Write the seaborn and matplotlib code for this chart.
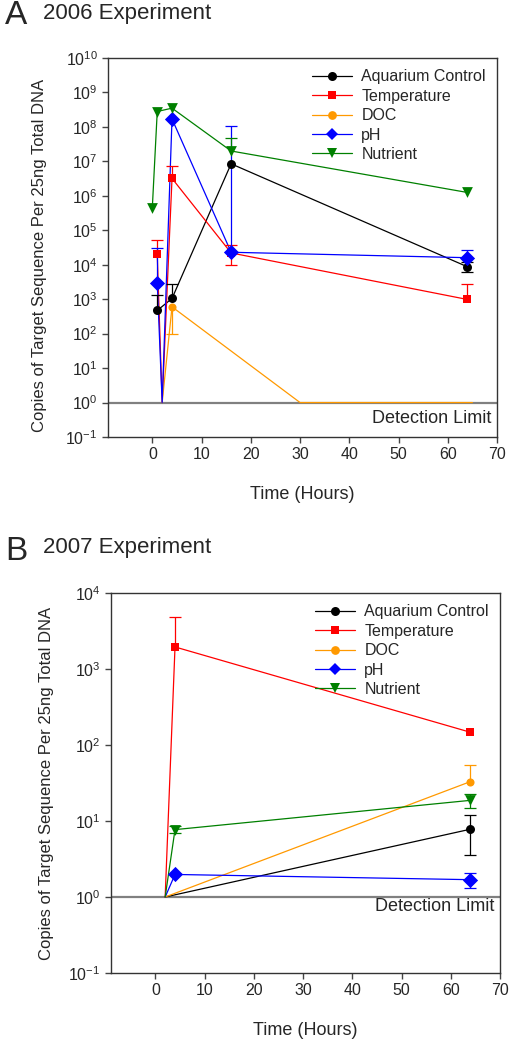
import numpy as np
import pandas as pd
import matplotlib
matplotlib.use("Agg")
import matplotlib.pyplot as plt
import seaborn as sns
from matplotlib.lines import Line2D
from matplotlib.ticker import LogLocator, LogFormatterSciNotation, NullLocator

nan = np.nan

series_names = ["Aquarium Control", "Temperature", "DOC", "pH", "Nutrient"]
series_colors = ["#000000", "#ff0000", "#ff9900", "#0000ff", "#008000"]
series_markers = ["o", "s", "o", "D", "v"]
marker_area = [42, 40, 34, 60, 60]
x_ticks = [0, 10, 20, 30, 40, 50, 60, 70]

# 2006 experiment (panel A); a value of 1 sits on the detection limit
a_control_t = [1, 4, 16, 64]
a_control = [470, 1050, 8.5e6, 8700]
a_control_hi = [1300, 2700, nan, 1.2e4]
a_control_lo = [nan, nan, nan, 6300]

a_temp_t = [1, 2, 4, 16, 64]
a_temp = [2e4, 1, 3.2e6, 2.2e4, 980]
a_temp_hi = [5.2e4, nan, 7.4e6, 3.7e4, 2700]
a_temp_lo = [nan, nan, nan, 1e4, nan]

a_doc_t = [2, 4, 30, 65]
a_doc = [1, 600, 1, 1]
a_doc_hi = [nan, nan, nan, nan]
a_doc_lo = [nan, 100, nan, nan]

a_ph_t = [1, 2, 4, 16, 64]
a_ph = [3000, 1, 1.7e8, 2.3e4, 1.6e4]
a_ph_hi = [3e4, nan, nan, 1.05e8, 2.7e4]
a_ph_lo = [nan, nan, nan, nan, nan]

a_nut_t = [0, 1, 4, 16, 64]
a_nut = [4.5e5, 2.8e8, 3.5e8, 2e7, 1.25e6]
a_nut_hi = [nan, nan, nan, 4.9e7, nan]
a_nut_lo = [nan, nan, nan, nan, nan]

# 2007 experiment (panel B)
b_control_t = [2, 64]
b_control = [1, 7.8]
b_control_hi = [nan, 11.9]
b_control_lo = [nan, 3.6]

b_temp_t = [2, 4, 64]
b_temp = [1, 1950, 147]
b_temp_hi = [nan, 4800, nan]
b_temp_lo = [nan, nan, nan]

b_doc_t = [2, 64]
b_doc = [1, 33]
b_doc_hi = [nan, 55]
b_doc_lo = [nan, nan]

b_ph_t = [2, 4, 64]
b_ph = [1, 1.98, 1.69]
b_ph_hi = [nan, nan, 2.06]
b_ph_lo = [nan, nan, 1.32]

b_nut_t = [2, 4, 64]
b_nut = [1, 7.7, 18.7]
b_nut_hi = [nan, 8.6, 23]
b_nut_lo = [nan, 7.0, 15]


def build_frame(parts):
    rows = []
    for name, (t, v, hi, lo) in zip(series_names, parts):
        rows.append(pd.DataFrame({"time": t, "value": v, "hi": hi, "lo": lo, "series": name}))
    return pd.concat(rows, ignore_index=True)


panel_a = build_frame([
    (a_control_t, a_control, a_control_hi, a_control_lo),
    (a_temp_t, a_temp, a_temp_hi, a_temp_lo),
    (a_doc_t, a_doc, a_doc_hi, a_doc_lo),
    (a_ph_t, a_ph, a_ph_hi, a_ph_lo),
    (a_nut_t, a_nut, a_nut_hi, a_nut_lo),
])
panel_b = build_frame([
    (b_control_t, b_control, b_control_hi, b_control_lo),
    (b_temp_t, b_temp, b_temp_hi, b_temp_lo),
    (b_doc_t, b_doc, b_doc_hi, b_doc_lo),
    (b_ph_t, b_ph, b_ph_hi, b_ph_lo),
    (b_nut_t, b_nut, b_nut_hi, b_nut_lo),
])

sns.set_style("ticks")
plt.rcParams["font.family"] = ["Liberation Sans", "DejaVu Sans"]
plt.rcParams["mathtext.fontset"] = "custom"
plt.rcParams["mathtext.rm"] = "Liberation Sans"
plt.rcParams["mathtext.it"] = "Liberation Sans:italic"
plt.rcParams["mathtext.bf"] = "Liberation Sans:bold"


def draw_errors(ax, d, color):
    # one-sided bars: only the caps that are shown in the figure are kept
    for _, r in d.iterrows():
        lo = 0 if np.isnan(r.lo) else r.value - r.lo
        hi = 0 if np.isnan(r.hi) else r.hi - r.value
        if lo == 0 and hi == 0:
            continue
        _, caps, _ = ax.errorbar([r.time], [r.value], yerr=[[lo], [hi]], fmt="none",
                                 ecolor=color, elinewidth=0.9, capsize=4, capthick=0.9, zorder=3)
        for cap in caps:
            if np.isclose(cap.get_ydata()[0], r.value):
                cap.remove()


def draw_panel(ax, df, ylim, det_y):
    ax.axhline(1, color="#808080", lw=1.6, zorder=1)
    for name, color, marker, area in zip(series_names, series_colors, series_markers, marker_area):
        d = df[df.series == name]
        sns.lineplot(data=d, x="time", y="value", color=color, lw=0.9, ax=ax,
                     estimator=None, sort=False, legend=False, zorder=2)
        draw_errors(ax, d, color)
        above = d[d.value > 1]
        sns.scatterplot(data=above, x="time", y="value", marker=marker, color=color,
                        s=area, linewidth=0, ax=ax, legend=False, zorder=4)
    ax.set_yscale("log")
    ax.set_ylim(*ylim)
    ax.set_xlim(-9, 70)
    ax.set_xticks(x_ticks)
    ax.yaxis.set_major_locator(LogLocator(base=10, numticks=20))
    ax.yaxis.set_major_formatter(LogFormatterSciNotation())
    ax.yaxis.set_minor_locator(NullLocator())
    ax.tick_params(axis="both", labelsize=11.5, length=4, width=1, color="#444444", direction="out")
    for sp in ax.spines.values():
        sp.set_linewidth(1)
        sp.set_color("#333333")
    ax.set_xlabel("Time (Hours)", fontsize=13)
    ax.set_ylabel("Copies of Target Sequence Per 25ng Total DNA", fontsize=12)
    ax.text(0.985, det_y, "Detection Limit", transform=ax.get_yaxis_transform(),
            ha="right", va="center", fontsize=13)
    handles = [Line2D([], [], color=c, marker=m, lw=0.9, markersize=ms, markeredgewidth=0)
               for c, m, ms in zip(series_colors, series_markers, [6.5, 6.3, 6.3, 6.0, 7.5])]
    ax.legend(handles, series_names, loc="upper right", frameon=False, fontsize=11.5,
              handlelength=2.5, labelspacing=0.28, borderaxespad=0.3, handletextpad=0.6)


fig = plt.figure(figsize=(5.09, 10.56), dpi=100)
ax_a = fig.add_axes([108 / 509, 1 - 437 / 1056, 389 / 509, 379 / 1056])
ax_b = fig.add_axes([111 / 509, 1 - 973 / 1056, 389 / 509, 380 / 1056])

draw_panel(ax_a, panel_a, (1e-1, 1e10), 10 ** -0.45)
draw_panel(ax_b, panel_b, (1e-1, 1e4), 10 ** -0.12)

ax_a.yaxis.set_label_coords(-0.157, 0.48)
ax_b.yaxis.set_label_coords(-0.147, 0.5)
for ax in (ax_a, ax_b):
    ax.xaxis.set_label_coords(0.5, -0.152)
    ax.xaxis.label.set_va("center")

fig.text(5 / 509, 1 - 16 / 1056, "A", fontsize=24, ha="left", va="center")
fig.text(43 / 509, 1 - 13 / 1056, "2006 Experiment", fontsize=16, ha="left", va="center")
fig.text(5 / 509, 1 - 551 / 1056, "B", fontsize=24, ha="left", va="center")
fig.text(43 / 509, 1 - 548 / 1056, "2007 Experiment", fontsize=16, ha="left", va="center")

fig.savefig("out.png", dpi=100)
